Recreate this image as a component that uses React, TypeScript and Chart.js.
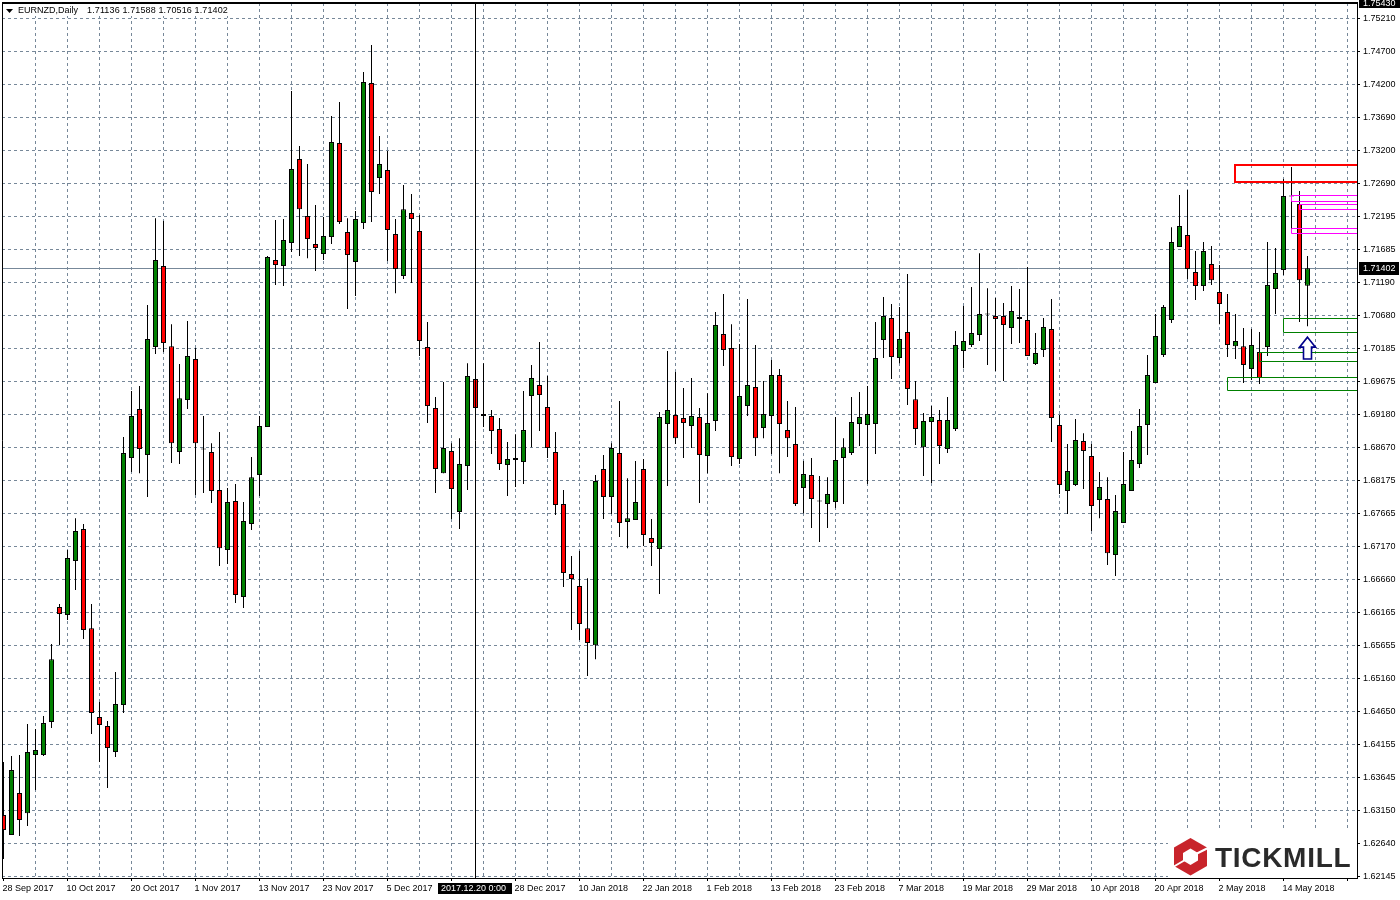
import React, { useEffect, useRef } from "react";
import { Chart, registerables } from "chart.js";

Chart.register(...registerables);

const open = [
1.63074,1.62770,1.63409,1.63104,1.63988,1.63988,1.64491,1.66241,1.66120,1.66942,
1.67429,1.65921,1.64566,1.64430,1.64034,1.64749,1.68510,1.69256,1.68556,1.70200,
1.71434,1.70215,1.68602,1.69393,1.70018,1.68640,1.68602,1.68023,1.67109,1.67856,
1.66394,1.67505,1.68251,1.68982,1.71525,1.71434,1.71784,1.73063,1.72195,1.71769,
1.71616,1.71875,1.73307,1.71952,1.71495,1.72088,1.74220,1.72774,1.72896,1.71921,
1.71282,1.72241,1.71967,1.70200,1.69272,1.68281,1.68617,1.67688,1.68388,1.69713,
1.69180,1.69150,1.68952,1.68404,1.68510,1.68449,1.69454,1.69622,1.69287,1.68602,
1.67810,1.66744,1.66561,1.65921,1.65662,1.68343,1.67917,1.68586,1.67536,1.67566,
1.68343,1.67292,1.67124,1.69028,1.69165,1.69119,1.68998,1.69134,1.68541,1.69074,
1.70398,1.70185,1.68495,1.69302,1.69592,1.68967,1.69150,1.69774,1.68936,1.68723,
1.68053,1.68251,1.67863,1.67810,1.67840,1.68510,1.68586,1.69028,1.69013,1.69028,
1.70307,1.70642,1.70033,1.70429,1.69408,1.68677,1.69058,1.69089,1.68647,1.68952,
1.70139,1.70231,1.70383,1.70695,1.70672,1.70672,1.70490,1.70627,1.70611,1.69941,
1.70155,1.70474,1.69013,1.68008,1.68099,1.68769,1.68541,1.67871,1.67886,1.67033,
1.67520,1.68008,1.68419,1.69013,1.69652,1.70079,1.70611,1.71723,1.71906,1.71343,
1.71129,1.71464,1.71038,1.70733,1.70215,1.70215,1.69865,1.70124,1.70200,1.71083,
1.71373,1.72507,1.72378,1.71136];

const high = [
1.63881,1.63973,1.63988,1.64460,1.64384,1.64582,1.65678,1.66287,1.67109,1.67596,
1.67505,1.66287,1.64795,1.64506,1.65252,1.68830,1.69530,1.69607,1.70840,1.72164,
1.72119,1.70550,1.69941,1.70596,1.70185,1.69150,1.68738,1.68906,1.68053,1.68114,
1.67840,1.68525,1.69150,1.71586,1.72134,1.72149,1.74099,1.73261,1.72987,1.72363,
1.72180,1.73718,1.73931,1.72164,1.72271,1.74388,1.74799,1.73414,1.73185,1.72149,
1.72667,1.72530,1.72210,1.70581,1.69439,1.69668,1.68738,1.68814,1.69956,1.69880,
1.69956,1.69241,1.69119,1.68754,1.68875,1.69530,1.69926,1.70277,1.69759,1.68906,
1.68023,1.67018,1.67094,1.66682,1.68251,1.68556,1.68738,1.69378,1.68205,1.68465,
1.68495,1.67581,1.69211,1.70139,1.69820,1.69576,1.69728,1.69272,1.69499,1.70733,
1.71007,1.70550,1.70246,1.70931,1.70231,1.69683,1.70002,1.69865,1.69378,1.69287,
1.68465,1.68510,1.68236,1.68220,1.69134,1.68814,1.69439,1.69515,1.69607,1.70581,
1.70962,1.70855,1.70809,1.71312,1.69683,1.69195,1.69302,1.69241,1.69439,1.70444,
1.70825,1.71114,1.71631,1.71098,1.70946,1.70870,1.71129,1.71083,1.71418,1.70413,
1.70642,1.70931,1.69165,1.68723,1.69104,1.68890,1.68723,1.68297,1.68220,1.67947,
1.68602,1.68921,1.69256,1.70079,1.70703,1.70840,1.72027,1.72515,1.72591,1.71662,
1.71799,1.71738,1.71449,1.71007,1.70703,1.70490,1.70474,1.70429,1.71799,1.71708,
1.72759,1.72941,1.72576,1.71588];

const low = [
1.62404,1.62770,1.62755,1.62907,1.63455,1.63973,1.64399,1.65662,1.66043,1.66500,
1.65754,1.64307,1.63881,1.63485,1.63957,1.64627,1.68297,1.68281,1.67917,1.70094,
1.70124,1.68434,1.68419,1.69256,1.67947,1.67977,1.67825,1.66866,1.66896,1.66302,
1.66226,1.67414,1.67932,1.68982,1.71144,1.71129,1.71647,1.71586,1.71555,1.71358,
1.71525,1.71769,1.72073,1.70779,1.70977,1.71997,1.72104,1.72530,1.71510,1.71022,
1.71236,1.71175,1.70063,1.69043,1.67977,1.68281,1.67581,1.67429,1.68023,1.69180,
1.68982,1.68571,1.68327,1.67932,1.68069,1.68114,1.68677,1.68921,1.68510,1.67642,
1.66546,1.65891,1.65739,1.65191,1.65449,1.67581,1.67657,1.67307,1.67139,1.67566,
1.67170,1.66866,1.66439,1.68084,1.68723,1.68510,1.68662,1.67825,1.68281,1.68921,
1.69911,1.68388,1.68419,1.69150,1.68541,1.68814,1.68571,1.68281,1.68525,1.67779,
1.67672,1.67444,1.67231,1.67444,1.67749,1.67810,1.68556,1.68693,1.68114,1.68571,
1.70033,1.69713,1.69956,1.69317,1.68708,1.68236,1.68129,1.68419,1.68586,1.68921,
1.69880,1.70200,1.70292,1.69926,1.69835,1.69683,1.70246,1.70261,1.70063,1.69926,
1.70048,1.68754,1.67962,1.67657,1.68084,1.68038,1.67399,1.67596,1.66881,1.66714,
1.67520,1.68008,1.68358,1.68556,1.69652,1.70048,1.70566,1.71723,1.71236,1.70916,
1.71053,1.71144,1.70550,1.70048,1.70018,1.69652,1.69698,1.69637,1.70063,1.70703,
1.71297,1.71936,1.70581,1.70516];

const close = [
1.62846,1.63759,1.62998,1.64034,1.64064,1.64475,1.65449,1.66135,1.66987,1.67399,
1.65891,1.64627,1.64445,1.64094,1.64764,1.68586,1.69150,1.68647,1.70322,1.71525,
1.70261,1.68738,1.69423,1.70063,1.68738,1.68655,1.68008,1.67139,1.67840,1.66424,
1.67551,1.68220,1.68998,1.71571,1.71449,1.71830,1.72911,1.72301,1.71845,1.71708,
1.71891,1.73322,1.72104,1.71601,1.72149,1.74236,1.72561,1.72987,1.71982,1.71388,
1.72301,1.72149,1.70292,1.69302,1.68343,1.68662,1.68038,1.68419,1.69759,1.69272,
1.69150,1.68921,1.68419,1.68495,1.68480,1.68936,1.69728,1.69469,1.68662,1.67795,
1.66759,1.66668,1.65982,1.65693,1.68160,1.67917,1.68662,1.67520,1.67596,1.67840,
1.67338,1.67216,1.69134,1.69241,1.68814,1.69043,1.69150,1.68556,1.69043,1.70535,
1.70155,1.68525,1.69454,1.69622,1.68814,1.69180,1.69774,1.69028,1.68814,1.67810,
1.68266,1.67886,1.67848,1.67962,1.68480,1.68677,1.69058,1.69134,1.69180,1.70033,
1.70672,1.70048,1.70322,1.69561,1.68952,1.69074,1.69134,1.68693,1.69089,1.70231,
1.70292,1.70413,1.70703,1.70710,1.70627,1.70535,1.70749,1.70657,1.70063,1.70109,
1.70505,1.69119,1.68099,1.68312,1.68784,1.68617,1.67779,1.68069,1.67063,1.67703,
1.68114,1.68480,1.68998,1.69774,1.70368,1.70809,1.71799,1.72043,1.71388,1.71129,
1.71662,1.71220,1.70855,1.70231,1.70292,1.69926,1.70231,1.69728,1.71144,1.71327,
1.72500,1.72492,1.71220,1.71402];

const priceTicks = [
1.7521,1.747,1.742,1.7369,1.732,1.7269,1.72195,1.71685,1.7119,1.7068,1.70185,1.69675,1.6918,1.6867,
1.68175,1.67665,1.6717,1.6666,1.66165,1.65655,1.6516,1.6465,1.64155,1.63645,1.6315,1.6264,1.62145];

const dateLabels = [
"28 Sep 2017","10 Oct 2017","20 Oct 2017","1 Nov 2017","13 Nov 2017","23 Nov 2017","5 Dec 2017","",
"28 Dec 2017","10 Jan 2018","22 Jan 2018","1 Feb 2018","13 Feb 2018","23 Feb 2018","7 Mar 2018",
"19 Mar 2018","29 Mar 2018","10 Apr 2018","20 Apr 2018","2 May 2018","14 May 2018"];

const gridBars = Array.from({ length: 42 }, (_, i) => i * 4 + 4).filter((v) => v <= 168);
const labelBars = dateLabels.map((_, i) => i * 8);
const tickBars = [0, ...gridBars];

const zones = [
  { bar: 154, top: 1.72972, bottom: 1.72713, color: "#ff0000", width: 2 },
  { bar: 161, top: 1.72515, bottom: 1.72424, color: "#ff00ff", width: 1 },
  { bar: 162, top: 1.72378, bottom: 1.72301, color: "#ff00ff", width: 1 },
  { bar: 161, top: 1.72012, bottom: 1.71936, color: "#ff00ff", width: 1 },
  { bar: 160, top: 1.70642, bottom: 1.70429, color: "#008000", width: 1 },
  { bar: 157, top: 1.70124, bottom: 1.69987, color: "#008000", width: 1 },
  { bar: 153, top: 1.69744, bottom: 1.69545, color: "#008000", width: 1 },
];
const arrowMark = { bar: 163, tip: 1.70352, base: 1.70018 };
const cursorBar = 59;
const cursorLabel = "2017.12.20 0:00";
const highestLabel = "1.75430";
const headerSymbol = "EURNZD,Daily";
const headerValues = "1.71136 1.71588 1.70516 1.71402";
const logoText = "TICKMILL";

const FONT = '9px "Liberation Sans", Arial, sans-serif';

const overlay = {
  id: "overlay",
  beforeDatasetsDraw(chart: any) {
    const { ctx, chartArea: a, scales } = chart;
    const y = Math.round(scales.y.getPixelForValue(close[close.length - 1]) - 0.5) + 0.5;
    ctx.save();
    ctx.strokeStyle = "#778899";
    ctx.lineWidth = 1;
    ctx.beginPath();
    ctx.moveTo(a.left, y);
    ctx.lineTo(a.right, y);
    ctx.stroke();
    ctx.restore();
  },
  afterDatasetsDraw(chart: any) {
    const { ctx, chartArea: a, scales } = chart;
    const px = (b: number) => scales.x.getPixelForValue(b);
    const py = (v: number) => scales.y.getPixelForValue(v);
    ctx.save();

    // trade zones
    for (const z of zones) {
      const l = Math.floor(px(z.bar)) + 0.5 - (z.width === 2 ? 0.5 : 0);
      const off = z.width === 2 ? 0 : 0.5;
      const t = Math.round(py(z.top)) + off;
      const b = Math.round(py(z.bottom)) + off;
      ctx.strokeStyle = z.color;
      ctx.lineWidth = z.width;
      ctx.beginPath();
      ctx.moveTo(a.right, t);
      ctx.lineTo(l, t);
      ctx.lineTo(l, b);
      ctx.lineTo(a.right, b);
      ctx.stroke();
    }

    // up arrow
    const ax = px(arrowMark.bar);
    const tip = py(arrowMark.tip);
    const base = py(arrowMark.base);
    ctx.beginPath();
    ctx.moveTo(ax, tip);
    ctx.lineTo(ax + 8, tip + 10);
    ctx.lineTo(ax + 4, tip + 10);
    ctx.lineTo(ax + 4, base);
    ctx.lineTo(ax - 4, base);
    ctx.lineTo(ax - 4, tip + 10);
    ctx.lineTo(ax - 8, tip + 10);
    ctx.closePath();
    ctx.fillStyle = "#ffffff";
    ctx.fill();
    ctx.strokeStyle = "#00008b";
    ctx.lineWidth = 1.6;
    ctx.stroke();

    // cursor line
    const cx = Math.floor(px(cursorBar)) + 0.5;
    ctx.strokeStyle = "#000000";
    ctx.lineWidth = 1;
    ctx.beginPath();
    ctx.moveTo(cx, a.top);
    ctx.lineTo(cx, a.bottom);
    ctx.stroke();
    ctx.restore();
  },
  afterDraw(chart: any) {
    const { ctx, chartArea: a, scales } = chart;
    ctx.save();

    // header
    ctx.fillStyle = "#ffffff";
    ctx.fillRect(15, 3, 215, 13);
    ctx.fillStyle = "#000000";
    ctx.beginPath();
    ctx.moveTo(6, 9);
    ctx.lineTo(13, 9);
    ctx.lineTo(9.5, 13);
    ctx.closePath();
    ctx.fill();
    ctx.font = FONT;
    ctx.textAlign = "left";
    ctx.textBaseline = "middle";
    ctx.fillText(headerSymbol, 18, 10.5);
    (ctx as any).letterSpacing = "0.13px";
    ctx.fillText(headerValues, 87, 10.5);
    (ctx as any).letterSpacing = "0px";

    // logo panel
    ctx.fillStyle = "#ffffff";
    ctx.fillRect(1168, 828, a.right - 1168, a.bottom - 828);
    const hex = [[1190.5, 838], [1207, 847.5], [1207, 866], [1190.5, 875.5], [1174, 866], [1174, 847.5]];
    const inner = [[1190.5, 848.5], [1198, 853], [1198, 860.5], [1190.5, 865], [1183, 860.5], [1183, 853]];
    const path = (p: number[][]) => {
      ctx.beginPath();
      p.forEach(([x, y], i) => (i ? ctx.lineTo(x, y) : ctx.moveTo(x, y)));
      ctx.closePath();
    };
    ctx.fillStyle = "#c8242b";
    path(hex);
    ctx.fill();
    ctx.fillStyle = "#ffffff";
    path(inner);
    ctx.fill();
    ctx.strokeStyle = "#ffffff";
    ctx.lineWidth = 2;
    ctx.beginPath();
    ctx.moveTo(1196, 854);
    ctx.lineTo(1208, 848);
    ctx.moveTo(1185, 860);
    ctx.lineTo(1173, 867);
    ctx.stroke();
    ctx.fillStyle = "#2a2a2a";
    ctx.font = 'bold 28px "Liberation Sans", Arial, sans-serif';
    (ctx as any).letterSpacing = "0.7px";
    ctx.textBaseline = "alphabetic";
    ctx.fillText(logoText, 1215, 867);
    (ctx as any).letterSpacing = "0px";

    // frame
    ctx.strokeStyle = "#000000";
    ctx.lineWidth = 1;
    ctx.beginPath();
    ctx.moveTo(a.left + 0.5, a.bottom + 0.5);
    ctx.lineTo(a.left + 0.5, a.top);
    ctx.moveTo(a.right + 0.5, a.top);
    ctx.lineTo(a.right + 0.5, a.bottom + 1);
    ctx.moveTo(a.left, a.bottom + 0.5);
    ctx.lineTo(a.right, a.bottom + 0.5);
    ctx.stroke();
    ctx.fillStyle = "#000000";
    ctx.fillRect(a.left, a.top - 1, a.right - a.left + 1, 2);

    // price boxes
    ctx.font = FONT;
    ctx.textBaseline = "middle";
    ctx.fillStyle = "#000000";
    ctx.fillRect(1359, 0, 41, 8);
    ctx.fillStyle = "#ffffff";
    ctx.fillText(highestLabel, 1363, 3.5);
    const last = close[close.length - 1];
    const ly = Math.round(scales.y.getPixelForValue(last));
    ctx.fillStyle = "#000000";
    ctx.fillRect(1359, ly - 6, 40, 13);
    ctx.fillStyle = "#ffffff";
    ctx.fillText(last.toFixed(5), 1363, ly + 0.5);

    // cursor date box
    const cx = Math.floor(scales.x.getPixelForValue(cursorBar));
    ctx.fillStyle = "#000000";
    ctx.fillRect(cx - 37, 883, 74, 11);
    ctx.fillStyle = "#ffffff";
    ctx.fillText(cursorLabel, cx - 34, 888.5);
    ctx.restore();
  },
};

const noPadding = (s: any) => {
  s.paddingTop = 0;
  s.paddingBottom = 0;
  s.paddingLeft = 0;
  s.paddingRight = 0;
};

export default function App() {
  const ref = useRef<HTMLCanvasElement>(null);
  useEffect(() => {
    const bodies = open.map((o, i) => ({ x: i, y: [o, close[i]] }));
    const wicks = open.map((_, i) => ({ x: i, y: [low[i], high[i]] }));
    const chart = new Chart(ref.current as HTMLCanvasElement, {
      type: "bar",
      data: {
        datasets: [
          {
            data: bodies,
            grouped: false,
            barThickness: 5,
            maxBarThickness: 5,
            backgroundColor: open.map((o, i) => (close[i] >= o ? "#008000" : "#ff0000")),
            borderColor: "#000000",
            borderWidth: 1,
            borderSkipped: false,
            inflateAmount: 0,
          },
          {
            data: wicks,
            grouped: false,
            barThickness: 1,
            maxBarThickness: 1,
            backgroundColor: "#000000",
            borderWidth: 0,
            inflateAmount: 0,
          },
        ] as any,
      },
      options: {
        responsive: false,
        animation: false,
        devicePixelRatio: 1,
        layout: { padding: { left: 2, top: 3, right: 0, bottom: 0 } },
        plugins: { legend: { display: false }, tooltip: { enabled: false }, title: { display: false } },
        events: [],
        scales: {
          x: {
            type: "linear",
            offset: false,
            min: -0.1875,
            max: 169.1875,
            afterFit: (s: any) => { s.height = 22; noPadding(s); },
            afterBuildTicks: (s: any) => { s.ticks = tickBars.map((value) => ({ value })); },
            grid: {
              offset: false,
              color: (c: any) => (c.tick && c.tick.value === 0 ? "rgba(0,0,0,0)" : "#778899"),
              tickColor: (c: any) => (c.tick && c.tick.value % 8 === 0 ? "#000000" : "rgba(0,0,0,0)"),
              tickLength: 3,
              tickBorderDash: [],
              lineWidth: 1,
            },
            border: { display: false, dash: [3, 3] },
            ticks: {
              autoSkip: false,
              maxRotation: 0,
              minRotation: 0,
              align: "start",
              padding: 2,
              labelOffset: -1,
              color: "#000000",
              font: { family: '"Liberation Sans", Arial, sans-serif', size: 9 },
              callback: (v: any) => {
                const i = labelBars.indexOf(v);
                return i >= 0 ? dateLabels[i] : "";
              },
            },
          },
          y: {
            type: "linear",
            position: "right",
            beginAtZero: false,
            min: 1.621162,
            max: 1.754398,
            afterFit: (s: any) => { s.width = 43; noPadding(s); },
            afterBuildTicks: (s: any) => { s.ticks = priceTicks.map((value) => ({ value })); },
            grid: {
              color: "#778899",
              tickColor: "#000000",
              tickLength: 3,
              tickBorderDash: [],
              lineWidth: 1,
            },
            border: { display: false, dash: [3, 3] },
            ticks: {
              autoSkip: false,
              padding: 3,
              color: "#000000",
              font: { family: '"Liberation Sans", Arial, sans-serif', size: 9 },
              callback: (v: any) => Number(v).toFixed(5),
            },
          },
        },
      } as any,
      plugins: [overlay],
    });
    return () => chart.destroy();
  }, []);
  return (
    <div style={{ position: "fixed", left: 0, top: 0, width: 1400, height: 900, background: "#fff" }}>
      <canvas ref={ref} width={1400} height={900} style={{ display: "block", width: 1400, height: 900 }} />
    </div>
  );
}
